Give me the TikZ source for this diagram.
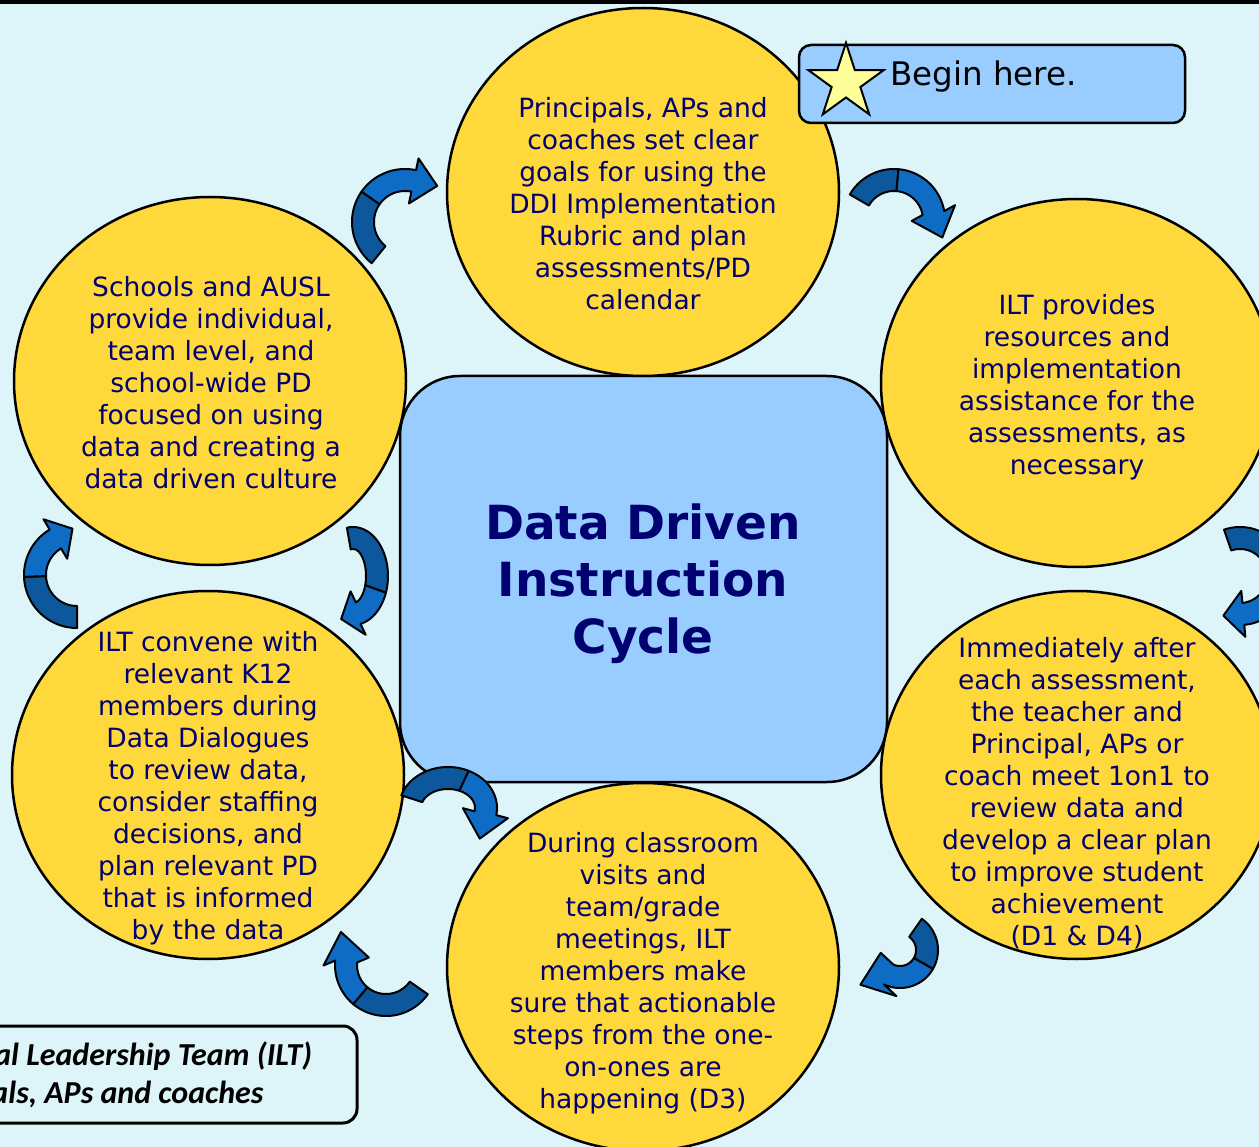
\documentclass[tikz,border=0pt]{standalone}
\usepackage{fontspec}
\setmainfont{DejaVu Sans}
\newfontfamily\legendfont{Carlito}
\usetikzlibrary{shapes.geometric}
\definecolor{bgc}{HTML}{DDF4F9}
\definecolor{stagefill}{HTML}{FFD83C}
\definecolor{boxfill}{HTML}{99CCFF}
\definecolor{starfill}{HTML}{FFFF99}
\definecolor{navytext}{HTML}{000070}
\definecolor{arrdark}{HTML}{0D579D}
\definecolor{arrlight}{HTML}{0F6CC4}
\newcommand{\cycarw}{11}
\newcommand{\cycarh}{23}
% #1 cx, #2 cy, #3 rx, #4 ry, #5 start angle, #6 split angle, #7 end angle, #8 head length, #9 head rotation
\newcommand{\cycarrow}[9]{%
  \pgfmathsetmacro{\arBx}{#1+#3*cos(#7)}%
  \pgfmathsetmacro{\arBy}{#2+#4*sin(#7)}%
  \pgfmathsetmacro{\artx}{-#3*sin(#7)}%
  \pgfmathsetmacro{\arty}{#4*cos(#7)}%
  \pgfmathsetmacro{\artn}{sqrt((\artx)*(\artx)+(\arty)*(\arty))}%
  \pgfmathsetmacro{\ardx}{((\artx)*cos(#9)-(\arty)*sin(#9))/\artn}%
  \pgfmathsetmacro{\ardy}{((\artx)*sin(#9)+(\arty)*cos(#9))/\artn}%
  \filldraw[arrdarkst] plot[domain=#5:#6,samples=30] ({#1+(#3+\cycarw)*cos(\x)},{#2+(#4+\cycarw)*sin(\x)})
    -- plot[domain=#6:#5,samples=30] ({#1+(#3-\cycarw)*cos(\x)},{#2+(#4-\cycarw)*sin(\x)}) -- cycle;
  \filldraw[arrlightst] plot[domain=#6:#7,samples=30] ({#1+(#3+\cycarw)*cos(\x)},{#2+(#4+\cycarw)*sin(\x)})
    -- ({\arBx+\cycarh*(\ardy)},{\arBy-\cycarh*(\ardx)})
    -- ({\arBx+#8*(\ardx)},{\arBy+#8*(\ardy)})
    -- ({\arBx-\cycarh*(\ardy)},{\arBy+\cycarh*(\ardx)})
    -- plot[domain=#7:#6,samples=30] ({#1+(#3-\cycarw)*cos(\x)},{#2+(#4-\cycarw)*sin(\x)}) -- cycle;
}
\begin{document}
\begin{tikzpicture}[x=1pt,y=-1pt,
  stage/.style={ellipse, draw=black, fill=stagefill, line width=2.5pt, minimum width=392pt, minimum height=368pt, inner sep=0pt},
  stagetext/.style={text=navytext, align=center, inner sep=0pt, font=\fontsize{26.5}{32}\selectfont},
  corebox/.style={rectangle, draw=black, fill=boxfill, line width=2.5pt, rounded corners=60pt, minimum width=487pt, minimum height=406pt, inner sep=0pt},
  titletext/.style={text=navytext, align=center, inner sep=0pt, font=\bfseries\fontsize{47}{57}\selectfont},
  beginbox/.style={rectangle, draw=black, fill=boxfill, line width=2.5pt, rounded corners=12pt, minimum width=386pt, minimum height=78pt, inner sep=0pt},
  begintext/.style={text=black, inner sep=0pt, font=\fontsize{32.5}{40}\selectfont},
  starnode/.style={star, star points=5, star point ratio=2.618, draw=black, fill=starfill, line width=2pt, minimum size=79pt, inner sep=0pt},
  legendbox/.style={rectangle, draw=black, fill=bgc, line width=3pt, rounded corners=14pt, minimum width=400pt, minimum height=97pt, inner sep=0pt},
  legendtext/.style={text=black, align=center, inner sep=0pt, font=\legendfont\bfseries\itshape\fontsize{32}{38}\selectfont},
  arrdarkst/.style={fill=arrdark, draw=black, line width=2pt, line join=round},
  arrlightst/.style={fill=arrlight, draw=black, line width=2pt, line join=round}]
\useasboundingbox (0,0) rectangle (1259,1147);
\begin{scope}
\clip (0,0) rectangle (1259,1147);
\fill[bgc] (0,0) rectangle (1259,1147);
\fill[black] (0,0) rectangle (1259,4);
% centre
\node[corebox] (core) at (643.5,579) {};
% stages
\node[stage] (s1) at (643,192) {};
\node[stage] (s2) at (1077,383) {};
\node[stage] (s3) at (1077,775) {};
\node[stage] (s4) at (643,967) {};
\node[stage] (s5) at (208,775) {};
\node[stage] (s6) at (210,381) {};
\node[titletext] (title) at (643,584) {Data Driven\\Instruction\\Cycle};
\node[stagetext] (t1) at (643,204) {Principals, APs and\\coaches set clear\\goals for using the\\DDI Implementation\\Rubric and plan\\assessments/PD\\calendar};
\node[stagetext] (t2) at (1077,387) {ILT provides\\resources and\\implementation\\assistance for the\\assessments, as\\necessary};
\node[stagetext] (t3) at (1077,793) {Immediately after\\each assessment,\\the teacher and\\Principal, APs or\\coach meet 1on1 to\\review data and\\develop a clear plan\\to improve student\\achievement\\(D1 \& D4)};
\node[stagetext] (t4) at (643,973) {During classroom\\visits and\\team/grade\\meetings, ILT\\members make\\sure that actionable\\steps from the one-\\on-ones are\\happening (D3)};
\node[stagetext] (t5) at (208,788) {ILT convene with\\relevant K12\\members during\\Data Dialogues\\to review data,\\consider staffing\\decisions, and\\plan relevant PD\\that is informed\\by the data};
\node[stagetext] (t6) at (211,383) {Schools and AUSL\\provide individual,\\team level, and\\school-wide PD\\focused on using\\data and creating a\\data driven culture};
% cycle arrows
\cycarrow{405}{222}{42}{42}{129}{215}{282}{24}{0}
\cycarrow{894}{220}{40}{40}{210}{275}{350}{26}{-10}
\cycarrow{1240}{576}{38}{38}{251}{380}{445}{20}{0}
\cycarrow{900}{950}{27}{27}{305}{390}{475}{30}{-45}
\cycarrow{448}{808}{38}{30}{198}{295}{370}{26}{0}
\cycarrow{386}{965}{40}{40}{35}{130}{185}{30}{-15}
\cycarrow{77}{575}{42}{42}{90}{178}{239}{20}{0}
\cycarrow{353}{576}{24}{38}{260}{380}{437.6}{18}{0}
% begin here
\node[beginbox] (begin) at (992,84) {};
\node[starnode] (star) at (846,82.4) {};
\node[begintext, anchor=base west] (begintxt) at (890,86) {Begin here.};
% legend
\node[legendbox] (legend) at (157,1074.5) {};
\node[legendtext] (legendtxt) at (82,1075) {Instructional Leadership Team (ILT)\\Principals, APs and coaches};
\end{scope}
\end{tikzpicture}
\end{document}
